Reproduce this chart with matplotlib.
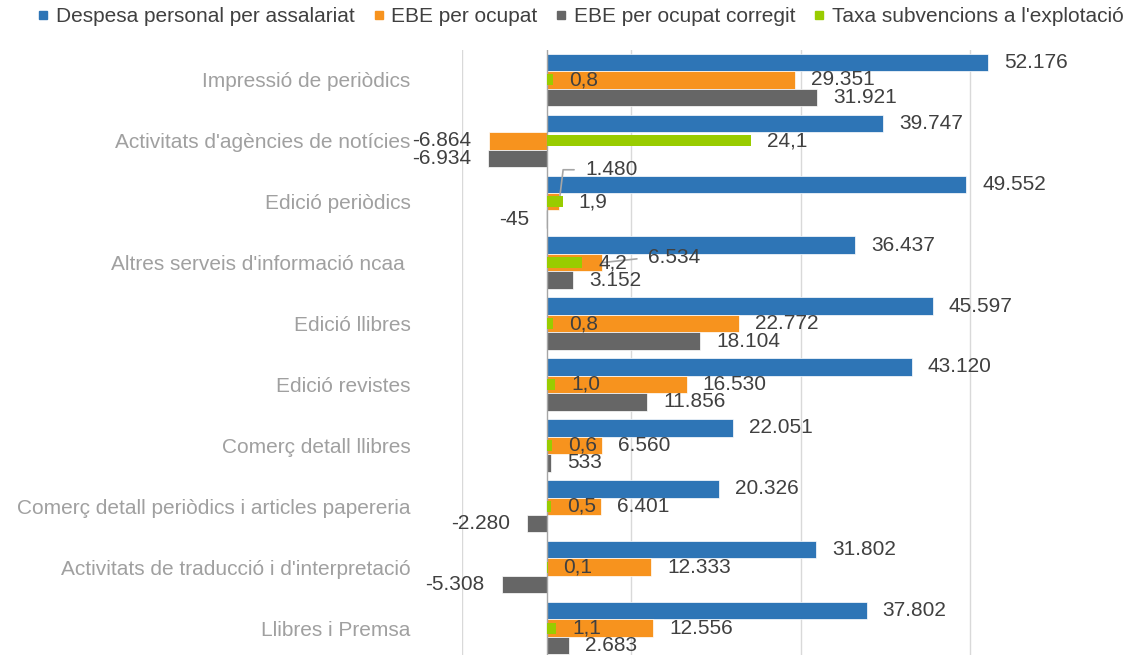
import matplotlib
matplotlib.use("Agg")
import matplotlib.pyplot as plt
from matplotlib.lines import Line2D
import numpy as np

plt.rcParams['font.family'] = ['Liberation Sans', 'DejaVu Sans']

# data
categories = [
    "Impressió de periòdics",
    "Activitats d'agències de notícies",
    "Edició periòdics",
    "Altres serveis d'informació ncaa ",
    "Edició llibres",
    "Edició revistes",
    "Comerç detall llibres",
    "Comerç detall periòdics i articles papereria",
    "Activitats de traducció i d'interpretació",
    "Llibres i Premsa",
]
despesa = [52176, 39747, 49552, 36437, 45597, 43120, 22051, 20326, 31802, 37802]
ebe = [29351, -6864, 1480, 6534, 22772, 16530, 6560, 6401, 12333, 12556]
ebe_corregit = [31921, -6934, -45, 3152, 18104, 11856, 533, -2280, -5308, 2683]
taxa_subv = [0.8, 24.1, 1.9, 4.2, 0.8, 1.0, 0.6, 0.5, 0.1, 1.1]

series_names = ["Despesa personal per assalariat", "EBE per ocupat",
                "EBE per ocupat corregit", "Taxa subvencions a l'explotació"]
colors = ["#2E75B6", "#F7931E", "#666666", "#99CC00"]

LABEL_COLOR = "#404040"
FS = 15


def fmt_int(v):
    return f"{v:,}".replace(",", ".")


def fmt_dec(v):
    return f"{v:.1f}".replace(".", ",")


fig = plt.figure(figsize=(11.3, 6.55), dpi=100)
ax = fig.add_axes([462 / 1130, -3.5 / 655, (1054.7 - 462) / 1130, 609 / 655])

y = np.arange(len(categories))
h = 0.287

ax.barh(y - h, despesa, height=h, color=colors[0], edgecolor="white", linewidth=0.5, zorder=2)
ax.barh(y, ebe, height=h, color=colors[1], edgecolor="white", linewidth=0.5, zorder=2)
ax.barh(y + h, ebe_corregit, height=h, color=colors[2], edgecolor="white", linewidth=0.5, zorder=2)

ax.set_xlim(-10000, 60000)
ax.set_ylim(len(categories) - 0.5, -0.5)
ax.set_xticks([-10000, 10000, 30000, 50000])
ax.set_xticklabels([])
ax.grid(axis="x", color="#D9D9D9", linewidth=1)
ax.set_axisbelow(True)
ax.tick_params(axis="both", length=0)
ax.set_yticks(y)
ax.set_yticklabels(categories, fontsize=FS, color="#A0A0A0")
ax.tick_params(axis="y", pad=37)
for s in ax.spines.values():
    s.set_visible(False)
ax.axvline(0, color="#A6A6A6", linewidth=1, zorder=3)

# secondary axis for the subsidy rate
ax2 = ax.twiny()
ax2.set_xlim(-10, 60)
ax2.barh(y, taxa_subv, height=0.18, color=colors[3], zorder=2)
ax2.set_xticks([])
for s in ax2.spines.values():
    s.set_visible(False)


def put_label(axis, x, yy, text, special=None):
    if special is not None:
        dx, dy, leader = special
        axis.annotate(text, xy=(x, yy), xytext=(dx, dy), textcoords="offset pixels",
                      ha="left", va="center", fontsize=FS, color=LABEL_COLOR,
                      annotation_clip=False, zorder=6,
                      arrowprops=dict(arrowstyle="-", color="#A6A6A6", lw=1.2,
                                      relpos=(0, 0.5), shrinkA=6, shrinkB=0,
                                      connectionstyle=leader))
        return
    if x >= 0:
        axis.annotate(text, xy=(x, yy), xytext=(16, 0), textcoords="offset pixels",
                      ha="left", va="center", fontsize=FS, color=LABEL_COLOR,
                      annotation_clip=False, zorder=6)
    else:
        axis.annotate(text, xy=(x, yy), xytext=(-17, 0), textcoords="offset pixels",
                      ha="right", va="center", fontsize=FS, color=LABEL_COLOR,
                      annotation_clip=False, zorder=6)


# labels moved by hand in the original, with leader lines
ebe_special = {
    2: (26, 32, "angle,angleA=0,angleB=83,rad=0"),
    3: (46, 5, "arc3,rad=0"),
}

for i in range(len(categories)):
    put_label(ax, despesa[i], i - h, fmt_int(despesa[i]))
    put_label(ax, ebe[i], i, fmt_int(ebe[i]), ebe_special.get(i))
    put_label(ax, ebe_corregit[i], i + h, fmt_int(ebe_corregit[i]))
    put_label(ax2, taxa_subv[i], i, fmt_dec(taxa_subv[i]))

handles = [Line2D([], [], marker="s", linestyle="none", markersize=5.5,
                  markerfacecolor=c, markeredgecolor=c) for c in colors]
fig.legend(handles, series_names, loc="center", bbox_to_anchor=(0.514, 1 - 17 / 655),
           ncol=4, frameon=False, fontsize=FS, handlelength=0.5, handletextpad=0.35,
           columnspacing=0.9, borderaxespad=0, labelcolor=LABEL_COLOR)

fig.savefig("out.png", dpi=100)
